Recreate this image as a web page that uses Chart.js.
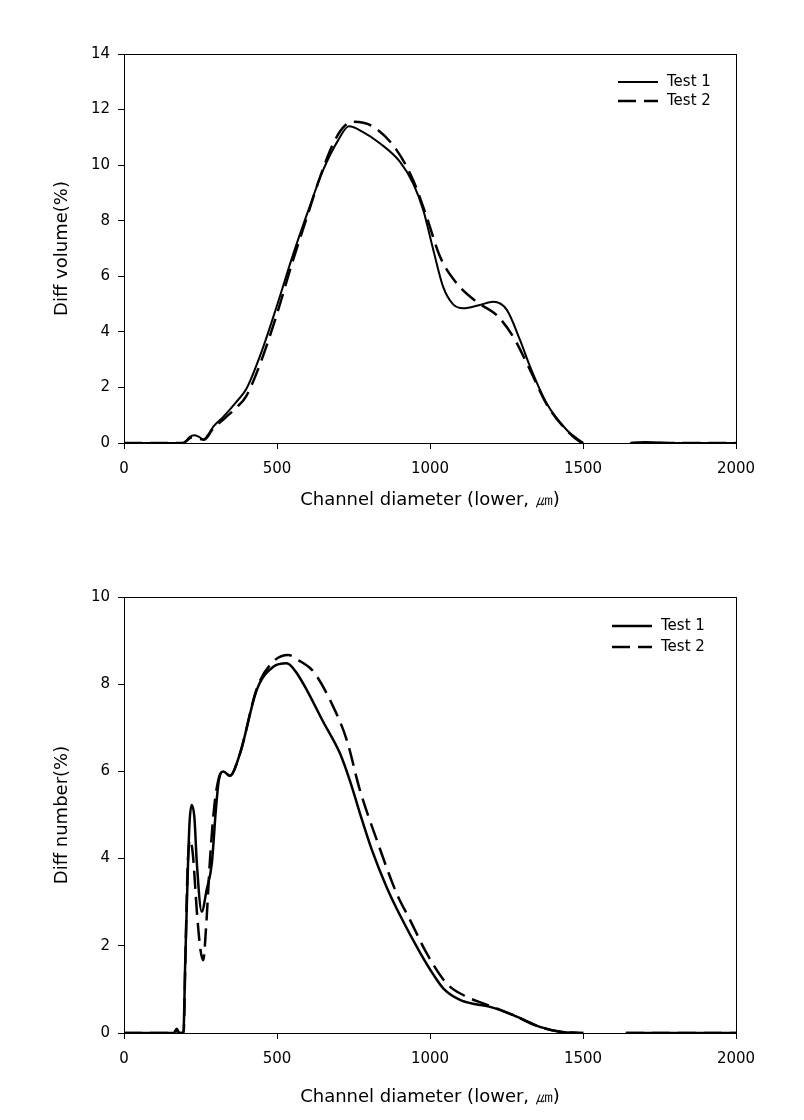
<!DOCTYPE html>
<html>
<head>
<meta charset="utf-8">
<script src="https://cdn.jsdelivr.net/npm/chart.js@4/dist/chart.umd.min.js"></script>
<style>
  html, body { margin: 0; padding: 0; background: #fff; }
  #wrap { position: relative; width: 804px; height: 1120px; }
  .box { position: absolute; left: 0; width: 804px; }
</style>
</head>
<body>
<div id="wrap">
  <div class="box" style="top:0;height:540px"><canvas id="vol-chart" width="804" height="540"></canvas></div>
  <div class="box" style="top:540px;height:580px"><canvas id="num-chart" width="804" height="580"></canvas></div>
</div>
<script>
// x ticks shared by both panels
const xTicks = [0, 500, 1000, 1500, 2000];
const volYTicks = [0, 2, 4, 6, 8, 10, 12, 14];
const numYTicks = [0, 2, 4, 6, 8, 10];
const seriesNames = ['Test 1', 'Test 2'];

// Diff volume (%) — Test 1
const volX1 = [0, 190, 200, 215, 230, 245, 260, 275, 292, 325, 368, 400, 450, 500, 550, 600, 650, 700, 735, 780,
  837, 902, 945, 978, 1011, 1043, 1075, 1109, 1163, 1207, 1251, 1294, 1327, 1381, 1447, 1501, 1580, 1655, 1700, 1750, 1800, 2000];
const volY1 = [0, 0, 0.05, 0.22, 0.28, 0.22, 0.13, 0.3, 0.59, 0.95, 1.49, 1.95, 3.3, 4.95, 6.7, 8.3, 9.8, 10.9, 11.4, 11.2,
  10.78, 10.12, 9.34, 8.38, 6.94, 5.62, 5.0, 4.85, 4.97, 5.08, 4.79, 3.71, 2.75, 1.43, 0.47, 0, null, 0, 0.04, 0.02, 0, 0];
// Diff volume (%) — Test 2
const volX2 = [0, 195, 205, 220, 235, 250, 262, 290, 330, 370, 400, 450, 500, 550, 600, 640, 684, 720, 749, 815,
  891, 945, 989, 1033, 1087, 1152, 1218, 1272, 1327, 1381, 1447, 1490, 1510, 1580, 1655, 2000];
const volY2 = [0, 0, 0.08, 0.2, 0.18, 0.14, 0.12, 0.5, 0.9, 1.3, 1.7, 3.0, 4.65, 6.5, 8.2, 9.55, 10.78, 11.4, 11.56, 11.38,
  10.54, 9.46, 8.14, 6.7, 5.75, 5.08, 4.6, 3.82, 2.63, 1.4, 0.45, 0.05, 0, null, 0, 0];

// Diff number (%) — Test 1
const numX1 = [0, 150, 163, 172, 181, 194, 200, 208, 214, 221, 230, 238, 254, 270, 287, 300, 310, 325, 346, 379,
  434, 488, 532, 560, 597, 650, 706, 740, 771, 810, 858, 902, 967, 1010, 1044, 1098, 1150, 1196, 1272,
  1359, 1425, 1501, 1570, 1640, 2000];
const numY1 = [0, 0, 0, 0.1, 0, 0, 1.6, 3.6, 4.8, 5.23, 4.95, 3.9, 2.78, 3.28, 3.89, 5.1, 5.8, 6.0, 5.9, 6.41,
  7.87, 8.4, 8.48, 8.3, 7.87, 7.15, 6.41, 5.75, 5.04, 4.2, 3.35, 2.7, 1.85, 1.35, 1.02, 0.76, 0.66, 0.6, 0.41,
  0.14, 0.03, 0, null, 0, 0];
// Diff number (%) — Test 2
const numX2 = [0, 160, 170, 180, 195, 200, 208, 216, 225, 238, 250, 259, 268, 281, 295, 310, 325, 346, 379, 434,
  488, 537, 570, 619, 684, 728, 771, 826, 891, 935, 989, 1054, 1120, 1174, 1220, 1272, 1359, 1425, 1501,
  1570, 1640, 2000];
const numY2 = [0, 0, 0.05, 0, 0, 1.5, 3.8, 4.43, 4.1, 2.8, 1.9, 1.67, 2.4, 3.97, 5.2, 5.85, 6.0, 5.9, 6.41, 7.9,
  8.52, 8.67, 8.55, 8.29, 7.48, 6.72, 5.57, 4.43, 3.2, 2.59, 1.83, 1.14, 0.83, 0.68, 0.56, 0.41, 0.14, 0.03, 0,
  null, 0, 0];

const FONT = "'DejaVu Sans', sans-serif";
const DASH = [18, 8];

const pts = (xs, ys) => xs.map((x, i) => ({ x: x, y: ys[i] }));

// box around plot + small legend in the upper right
const framePlugin = {
  id: 'frame',
  afterDraw(chart, args, opts) {
    const { ctx, chartArea: a } = chart;
    ctx.save();
    ctx.strokeStyle = '#000';
    ctx.lineWidth = 1;
    ctx.strokeRect(a.left + 0.5, a.top + 0.5, a.right - a.left, a.bottom - a.top);

    ctx.font = '15px ' + FONT;
    ctx.fillStyle = '#000';
    ctx.textBaseline = 'middle';
    chart.data.datasets.forEach((ds, i) => {
      const y = opts.y + i * opts.gap;
      ctx.beginPath();
      ctx.lineWidth = ds.borderWidth;
      ctx.setLineDash(ds.borderDash || []);
      ctx.moveTo(opts.x, y);
      ctx.lineTo(opts.x + 40, y);
      ctx.stroke();
      ctx.setLineDash([]);
      ctx.fillText(ds.label, opts.x + 49, y);
    });
    ctx.restore();
  }
};

function makeChart(id, p) {
  new Chart(document.getElementById(id), {
    type: 'line',
    data: {
      datasets: [
        {
          label: seriesNames[0],
          data: pts(p.x1, p.y1),
          borderColor: '#000',
          borderWidth: p.w1,
          pointRadius: 0,
          cubicInterpolationMode: 'monotone',
          spanGaps: false,
        },
        {
          label: seriesNames[1],
          data: pts(p.x2, p.y2),
          borderColor: '#000',
          borderWidth: 2.5,
          borderDash: DASH,
          pointRadius: 0,
          cubicInterpolationMode: 'monotone',
          spanGaps: false,
        },
      ],
    },
    options: {
      responsive: false,
      animation: false,
      layout: { padding: { left: 48, top: p.top, right: 68, bottom: p.bottom } },
      plugins: {
        legend: { display: false },
        tooltip: { enabled: false },
        frame: p.legend,
      },
      scales: {
        x: {
          type: 'linear',
          min: 0,
          max: 2000,
          afterBuildTicks: (s) => { s.ticks = xTicks.map((v) => ({ value: v })); },
          afterFit: (s) => { s.height = p.xh; },
          grid: { drawOnChartArea: false, tickLength: 6, color: '#000' },
          border: { color: '#000', width: 1 },
          ticks: {
            color: '#000', font: { family: FONT, size: 15 }, padding: 11, maxRotation: 0,
            callback: (v) => String(v),
          },
          title: { display: true, text: 'Channel diameter (lower, ㎛)', color: '#000', font: { family: FONT, size: 18 } },
        },
        y: {
          min: 0,
          max: p.ymax,
          afterBuildTicks: (s) => { s.ticks = p.yTicks.map((v) => ({ value: v })); },
          afterFit: (s) => { s.width = 76; },
          grid: { drawOnChartArea: false, tickLength: 6, color: '#000' },
          border: { color: '#000', width: 1 },
          ticks: { color: '#000', font: { family: FONT, size: 15 }, padding: 8, callback: (v) => String(v) },
          title: { display: true, text: p.ytitle, color: '#000', font: { family: FONT, size: 18 } },
        },
      },
    },
    plugins: [framePlugin],
  });
}

window.addEventListener('load', () => {
  makeChart('vol-chart', {
    x1: volX1, y1: volY1, x2: volX2, y2: volY2, w1: 2,
    ymax: 14, yTicks: volYTicks, ytitle: 'Diff volume(%)',
    top: 54, bottom: 25, xh: 72,
    legend: { x: 618, y: 82, gap: 19 },
  });
  makeChart('num-chart', {
    x1: numX1, y1: numY1, x2: numX2, y2: numY2, w1: 2.5,
    ymax: 10, yTicks: numYTicks, ytitle: 'Diff number(%)',
    top: 57, bottom: 8, xh: 79,
    legend: { x: 612, y: 86, gap: 21 },
  });
});
</script>
</body>
</html>
